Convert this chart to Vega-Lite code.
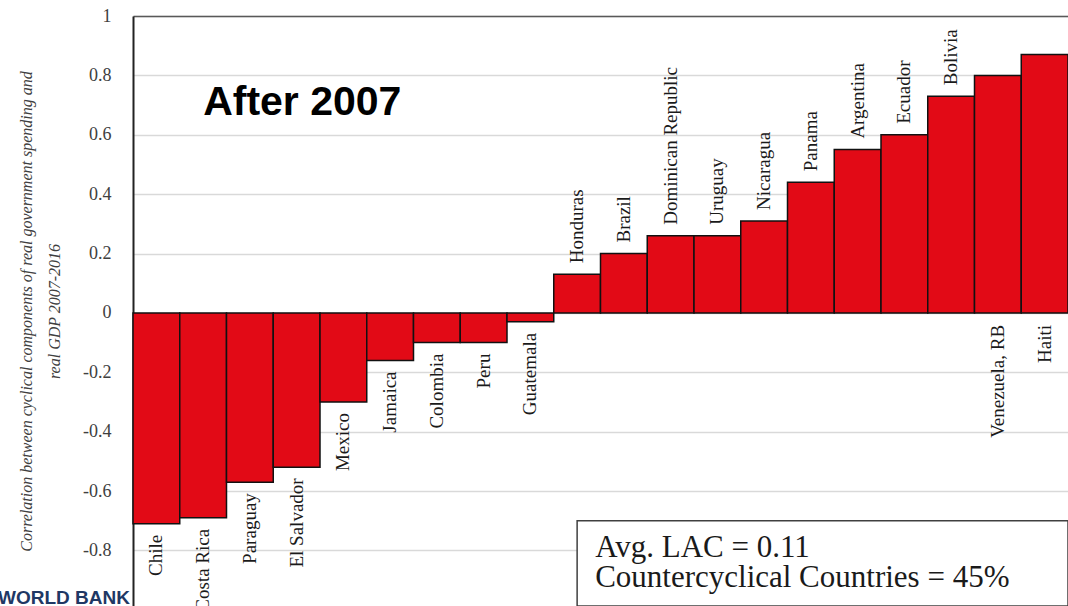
{
  "$schema": "https://vega.github.io/schema/vega-lite/v6.json",
  "width": 935,
  "height": 590,
  "autosize": {"type": "none"},
  "padding": {"left": 133, "top": 16, "right": 0, "bottom": 0},
  "background": "white",
  "config": {"view": {"stroke": null}},
  "data": {
    "values": [
      {"country": "Chile", "value": -0.71},
      {"country": "Costa Rica", "value": -0.69},
      {"country": "Paraguay", "value": -0.57},
      {"country": "El Salvador", "value": -0.52},
      {"country": "Mexico", "value": -0.30},
      {"country": "Jamaica", "value": -0.16},
      {"country": "Colombia", "value": -0.10},
      {"country": "Peru", "value": -0.10},
      {"country": "Guatemala", "value": -0.03},
      {"country": "Honduras", "value": 0.13},
      {"country": "Brazil", "value": 0.20},
      {"country": "Dominican Republic", "value": 0.26},
      {"country": "Uruguay", "value": 0.26},
      {"country": "Nicaragua", "value": 0.31},
      {"country": "Panama", "value": 0.44},
      {"country": "Argentina", "value": 0.55},
      {"country": "Ecuador", "value": 0.60},
      {"country": "Bolivia", "value": 0.73},
      {"country": "Venezuela, RB", "value": 0.80},
      {"country": "Haiti", "value": 0.87}
    ]
  },
  "encoding": {
    "x": {
      "field": "country",
      "type": "nominal",
      "sort": null,
      "scale": {"paddingInner": 0, "paddingOuter": 0},
      "axis": {"orient": "top", "labels": false, "ticks": false, "title": null, "domain": true, "domainColor": "#595959", "domainWidth": 1.5}
    }
  },
  "layer": [
    {
      "mark": {"type": "bar", "fill": "#E20A16", "stroke": "#111111", "strokeWidth": 1.5},
      "encoding": {
        "y": {
          "field": "value",
          "type": "quantitative",
          "scale": {"domain": [-0.987, 1], "nice": false, "zero": false},
          "axis": {
            "values": [-0.8, -0.6, -0.4, -0.2, 0, 0.2, 0.4, 0.6, 0.8, 1],
            "labelExpr": "datum.value < 0 ? '-' + format(-datum.value, '~g') : format(datum.value, '~g')",
            "grid": true,
            "gridColor": "#d9d9d9",
            "gridWidth": 1.5,
            "ticks": false,
            "domain": true,
            "domainColor": "#222222",
            "domainWidth": 2,
            "labelFont": "Liberation Serif",
            "labelFontSize": 18,
            "labelColor": "#404040",
            "labelPadding": 22,
            "title": ["Correlation between cyclical components of  real government spending and", "real GDP 2007-2016"],
            "titleFont": "Liberation Serif",
            "titleFontStyle": "italic",
            "titleFontWeight": "normal",
            "titleFontSize": 16,
            "titleColor": "#404040",
            "titleLineHeight": 28,
            "titlePadding": 20
          }
        }
      }
    },
    {
      "transform": [{"filter": "datum.value > 0 && datum.country != 'Venezuela, RB' && datum.country != 'Haiti'"}],
      "mark": {"type": "text", "angle": 270, "align": "left", "baseline": "middle", "dx": 11, "font": "Liberation Serif", "fontSize": 19, "fill": "#1a1a1a"},
      "encoding": {
        "y": {"field": "value", "type": "quantitative"},
        "text": {"field": "country"}
      }
    },
    {
      "transform": [{"filter": "datum.value < 0"}],
      "mark": {"type": "text", "angle": 270, "align": "right", "baseline": "middle", "dx": -11, "font": "Liberation Serif", "fontSize": 19, "fill": "#1a1a1a"},
      "encoding": {
        "y": {"field": "value", "type": "quantitative"},
        "text": {"field": "country"}
      }
    },
    {
      "transform": [{"filter": "datum.country == 'Venezuela, RB' || datum.country == 'Haiti'"}],
      "mark": {"type": "text", "angle": 270, "align": "right", "baseline": "middle", "dx": -12, "font": "Liberation Serif", "fontSize": 19, "fill": "#1a1a1a"},
      "encoding": {
        "y": {"datum": 0, "type": "quantitative"},
        "text": {"field": "country"}
      }
    },
    {
      "data": {"values": [{"label": "After 2007"}]},
      "mark": {"type": "text", "align": "left", "baseline": "alphabetic", "font": "Liberation Sans", "fontWeight": "bold", "fontSize": 41, "fill": "#000000"},
      "encoding": {
        "x": {"datum": "Costa Rica"},
        "y": {"datum": 0.667, "type": "quantitative"},
        "text": {"field": "label"}
      }
    },
    {
      "data": {"values": [{"box": "stats"}]},
      "mark": {"type": "rect", "fill": "white", "stroke": "#404040", "strokeWidth": 1.5},
      "encoding": {
        "x": {"datum": "Honduras", "bandPosition": 0.5},
        "x2": {"datum": "Haiti", "bandPosition": 1},
        "y": {"datum": -0.7, "type": "quantitative"},
        "y2": {"datum": -0.987}
      }
    },
    {
      "data": {"values": [{"box": "stats"}]},
      "mark": {"type": "text", "text": ["Avg. LAC = 0.11", "Countercyclical Countries = 45%"], "align": "left", "baseline": "alphabetic", "dx": 18, "lineHeight": 30, "font": "Liberation Serif", "fontSize": 31, "fill": "#1a1a1a"},
      "encoding": {
        "x": {"datum": "Honduras", "bandPosition": 0.5},
        "y": {"datum": -0.822, "type": "quantitative"}
      }
    },
    {
      "data": {"values": [{"logo": "WORLD BANK"}]},
      "mark": {"type": "text", "align": "right", "baseline": "alphabetic", "dx": -3, "font": "Liberation Sans", "fontWeight": "bold", "fontSize": 19, "fill": "#1f3864"},
      "encoding": {
        "x": {"datum": "Chile", "bandPosition": 0},
        "y": {"datum": -0.98, "type": "quantitative"},
        "text": {"field": "logo"}
      }
    }
  ]
}
